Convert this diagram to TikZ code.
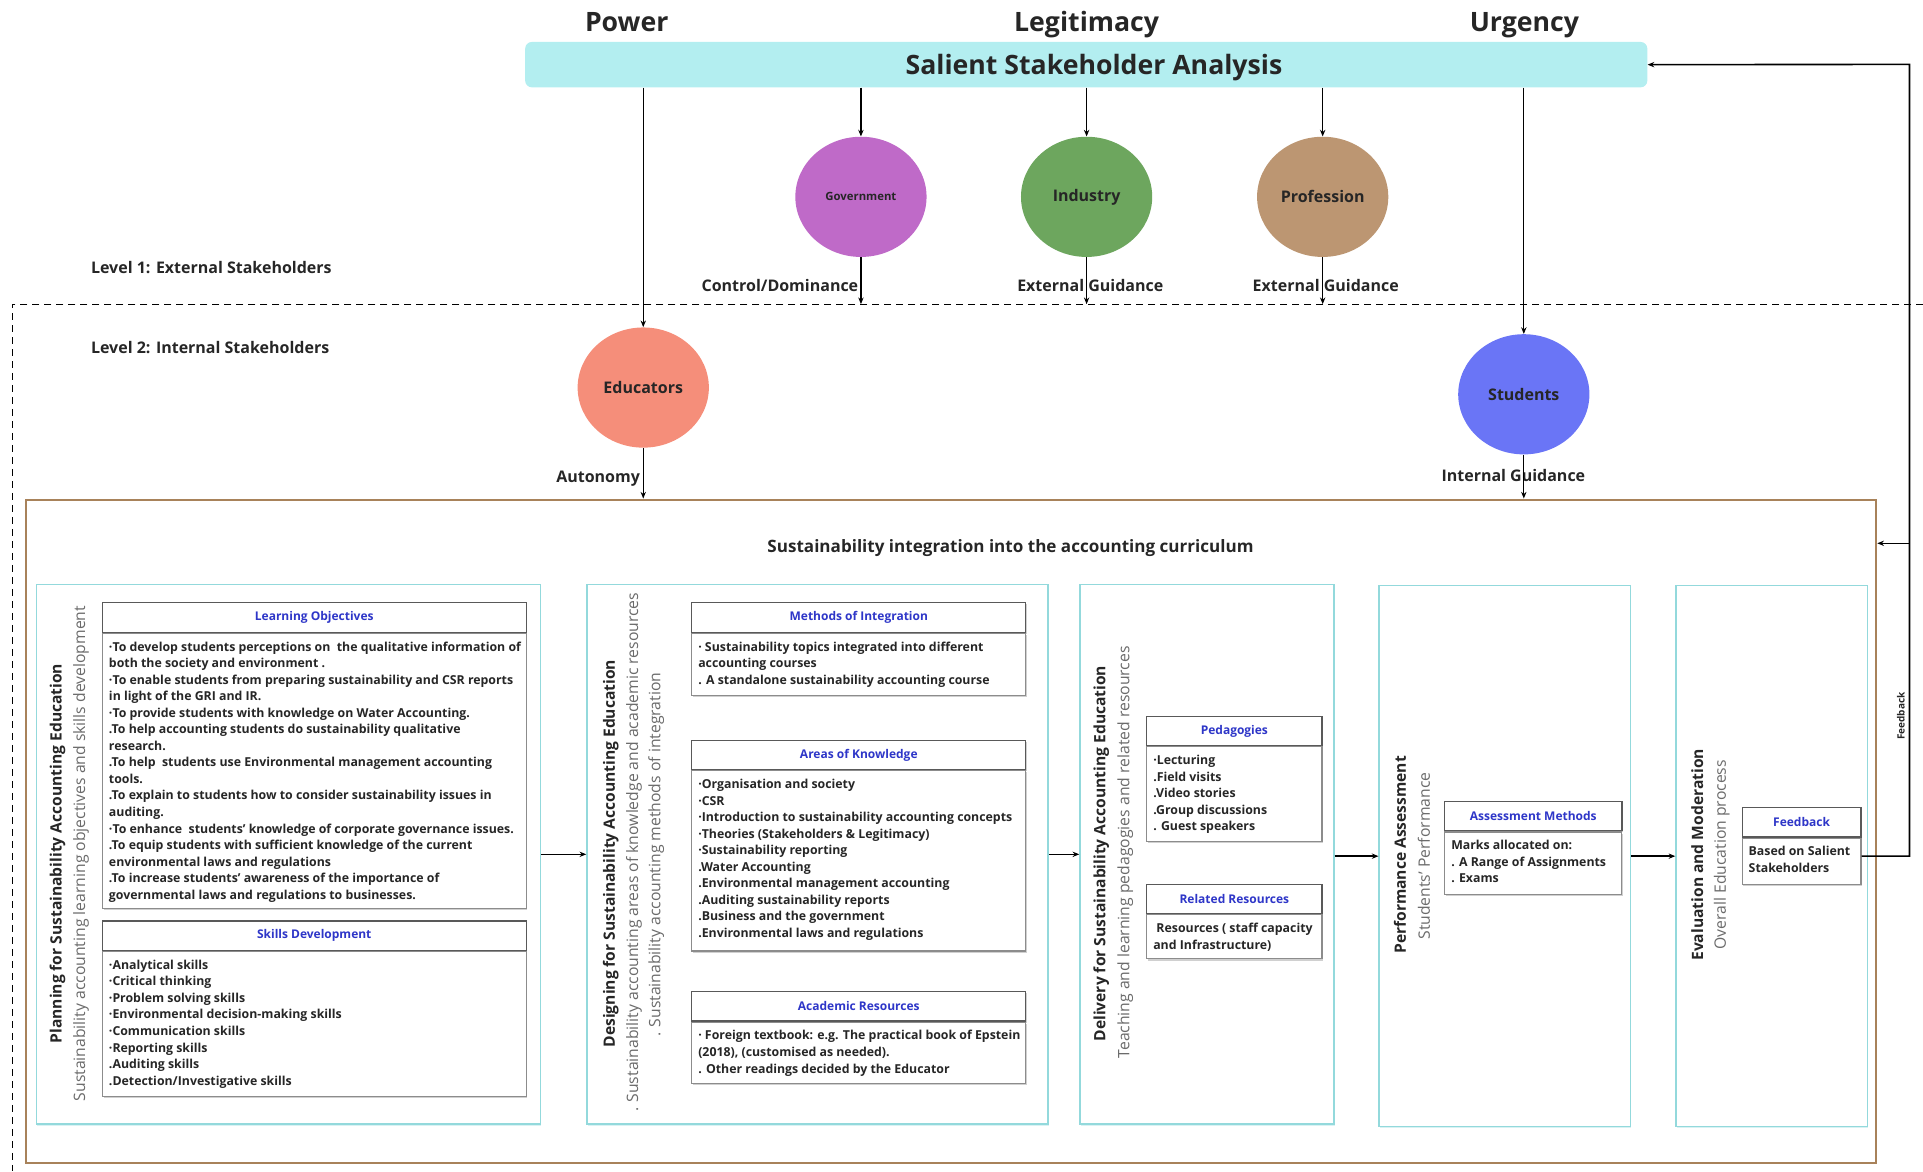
\documentclass[tikz,border=0pt]{standalone}
\usepackage{fontspec}
\setmainfont{Open Sans}
\usetikzlibrary{shapes.geometric,arrows.meta,shadows}
\definecolor{barcyan}{HTML}{B3EEF0}
\definecolor{govc}{HTML}{BF6AC8}
\definecolor{indc}{HTML}{6DA65E}
\definecolor{profc}{HTML}{BC9672}
\definecolor{educ}{HTML}{F58E7A}
\definecolor{stuc}{HTML}{6A75F6}
\definecolor{brownc}{HTML}{A8825A}
\definecolor{colc}{HTML}{93D9DC}
\definecolor{hdrblue}{HTML}{2E36C8}
\definecolor{txtc}{HTML}{262626}
\def\pxu{0.92pt}
\newcommand\fBig{\fontsize{20}{24}\selectfont\bfseries}
\newcommand\fLab{\fontsize{12}{14}\selectfont\bfseries}
\newcommand\fColT{\fontsize{11.7}{14}\selectfont\bfseries}
\newcommand\fColS{\fontsize{11.8}{14}\selectfont}
\newcommand\fBody{\fontsize{9.25}{12.4}\selectfont\bfseries}
\newcommand\fHdr{\fontsize{9}{11}\selectfont\bfseries}
\begin{document}
\begin{tikzpicture}[x=0.92pt,y=-0.92pt,
  sz/.style 2 args={minimum width=#1*\pxu, minimum height=#2*\pxu},
  arr/.style={-{Stealth[length=5pt,width=4pt]}, line width=0.9pt, black},
  ell/.style={ellipse, inner sep=0, sz={107}{98}, text=txtc},
  col/.style={draw=colc, line width=1.1pt, anchor=north west, inner sep=0, fill=white,
    drop shadow={shadow xshift=0.6pt, shadow yshift=-1.2pt, opacity=0.35, fill=colc}},
  hdr/.style={draw=black!65, line width=0.9pt, anchor=north west, inner sep=0, text=hdrblue, font=\fHdr, fill=white},
  bod/.style={draw=black!45, line width=0.8pt, anchor=north west, inner sep=0, fill=white},
  shd/.style={drop shadow={shadow xshift=1pt, shadow yshift=-1.2pt, opacity=0.3, fill=black!60}},
  btxt/.style={anchor=north west, align=left, inner xsep=5.2pt, inner ysep=6.5pt, font=\fBody, text=txtc},
  vt/.style={rotate=90, font=\fColT, text=txtc, inner sep=0},
  vs/.style={rotate=90, font=\fColS, text=black!58, inner sep=0},
  lab/.style={font=\fLab, text=txtc, inner sep=0}
]
\useasboundingbox (0,0) rectangle (1568,955);

% top headings
\node[font=\fBig, text=txtc, anchor=base] (pow) at (511,26) {Power};
\node[font=\fBig, text=txtc, anchor=base] (leg) at (886,26) {Legitimacy};
\node[font=\fBig, text=txtc, anchor=base] (urg) at (1243,26) {Urgency};
\node[fill=barcyan, rounded corners=5pt, anchor=north west, sz={915}{37}, inner sep=0] (bar) at (428,34) {};
\node[font=\fBig, text=txtc, anchor=base] (bartxt) at (892,61) {Salient Stakeholder Analysis};

% external stakeholders
\node[ell, fill=govc, font=\fontsize{8.5}{10}\selectfont\bfseries] (gov) at (702,160.5) {Government};
\node[ell, fill=indc, font=\fLab] (ind) at (886,160.5) {Industry};
\node[ell, fill=profc, font=\fLab] (prof) at (1078.5,160.5) {Profession};

\node[lab, anchor=west] (lv1) at (74,218) {Level 1: External Stakeholders};
\node[lab, anchor=west] (lv2) at (74,283) {Level 2: Internal Stakeholders};

\coordinate (dl) at (10,248);
\draw[dash pattern=on 5.5pt off 3.5pt, line width=0.9pt] (1568,248) -- (dl) -- (10,955);

\node[lab, anchor=east] (cd) at (700,233) {Control/Dominance};
\node[lab] (eg1) at (889,233) {External Guidance};
\node[lab] (eg2) at (1081,233) {External Guidance};

% internal stakeholders
\node[ell, fill=educ, font=\fLab] (edu) at (524.5,316) {Educators};
\node[ell, fill=stuc, font=\fLab] (stu) at (1242.5,321.5) {Students};

\node[lab, anchor=east] (aut) at (522,390) {Autonomy};
\node[lab] (ig) at (1234,388) {Internal Guidance};

% curriculum frame
\node[draw=brownc, line width=1.6pt, anchor=north west, inner sep=0, sz={1509}{541}] (brown) at (20,406.5) {};
\node[lab, font=\fontsize{12.8}{15}\selectfont\bfseries] (sic) at (824,447) {Sustainability integration into the accounting curriculum};

% columns
\node[col, sz={411}{440}] (c1) at (29,476) {};
\node[col, sz={376}{440}] (c2) at (478,476) {};
\node[col, sz={207}{440}] (c3) at (880,476) {};
\node[col, sz={205}{441}] (c4) at (1124,477) {};
\node[col, sz={156}{441}] (c5) at (1366,477) {};

% column titles
\node[vt] (c1t) at (47,696) {Planning for Sustainability Accounting Education};
\node[vs] (c1s) at (66,696) {Sustainability accounting learning objectives and skills development};
\node[vt] (c2t) at (498,696) {Designing for Sustainability Accounting Education};
\node[vs] (c2s) at (517,695) {. Sustainability accounting areas of knowledge and academic resources};
\node[vs] (c2u) at (535,697) {. Sustainability accounting methods of integration};
\node[vt] (c3t) at (898,696) {Delivery for Sustainability Accounting Education};
\node[vs] (c3s) at (917.5,695) {Teaching and learning pedagogies and related resources};
\node[vt] (c4t) at (1141.5,697) {Performance Assessment};
\node[vs] (c4s) at (1161,698) {Students' Performance};
\node[vt] (c5t) at (1384,697) {Evaluation and Moderation};
\node[vs] (c5s) at (1404,697) {Overall Education process};

% column 1 boxes
\node[hdr, shd, sz={345.5}{24}] (loH) at (83,491) {Learning Objectives};
\node[bod, shd, sz={345.5}{224}] (loB) at (loH.south west) {};
\node[btxt] (loT) at (loB.north west) {·To develop students perceptions on \ the qualitative information of\\
both the society and environment .\\
·To enable students from preparing sustainability and CSR reports\\
in light of the GRI and IR.\\
·To provide students with knowledge on Water Accounting.\\
.To help accounting students do sustainability qualitative\\
research.\\
.To help \ students use Environmental management accounting\\
tools.\\
.To explain to students how to consider sustainability issues in\\
auditing.\\
·To enhance \ students’ knowledge of corporate governance issues.\\
.To equip students with sufficient knowledge of the current\\
environmental laws and regulations\\
.To increase students' awareness of the importance of\\
governmental laws and regulations to businesses.};

\node[hdr, shd, sz={345.5}{24}] (skH) at (83,750.5) {Skills Development};
\node[bod, shd, sz={345.5}{118}] (skB) at (skH.south west) {};
\node[btxt] (skT) at (skB.north west) {·Analytical skills\\
·Critical thinking\\
·Problem solving skills\\
·Environmental decision-making skills\\
·Communication skills\\
·Reporting skills\\
.Auditing skills\\
.Detection/Investigative skills};

% column 2 boxes
\node[hdr, shd, sz={272.5}{24}] (miH) at (563.5,491) {Methods of Integration};
\node[bod, shd, sz={272.5}{51}] (miB) at (miH.south west) {};
\node[btxt] (miT) at (miB.north west) {· Sustainability topics integrated into different\\
accounting courses\\
. A standalone sustainability accounting course};

\node[hdr, shd, sz={272.5}{24}] (akH) at (563.5,603) {Areas of Knowledge};
\node[bod, shd, sz={272.5}{147}] (akB) at (akH.south west) {};
\node[btxt] (akT) at (akB.north west) {·Organisation and society\\
·CSR\\
·Introduction to sustainability accounting concepts\\
·Theories (Stakeholders \& Legitimacy)\\
·Sustainability reporting\\
.Water Accounting\\
.Environmental management accounting\\
.Auditing sustainability reports\\
.Business and the government\\
.Environmental laws and regulations};

\node[hdr, shd, sz={272.5}{24}] (arH) at (563.5,808) {Academic Resources};
\node[bod, shd, sz={272.5}{50}] (arB) at (arH.south west) {};
\node[btxt] (arT) at (arB.north west) {· Foreign textbook: e.g. The practical book of Epstein\\
(2018), (customised as needed).\\
. Other readings decided by the Educator};

% column 3 boxes
\node[hdr, shd, sz={143}{24}] (peH) at (934.5,583.5) {Pedagogies};
\node[bod, shd, sz={143}{77}] (peB) at (peH.south west) {};
\node[btxt] (peT) at (peB.north west) {·Lecturing\\
.Field visits\\
.Video stories\\
.Group discussions\\
. Guest speakers};

\node[hdr, shd, sz={143}{24}] (rrH) at (934.5,720.5) {Related Resources};
\node[bod, shd, sz={143}{36}] (rrB) at (rrH.south west) {};
\node[btxt] (rrT) at (rrB.north west) {\ Resources ( staff capacity\\
and Infrastructure)};

% column 4 box
\node[hdr, shd, sz={144.5}{24}] (amH) at (1177.5,653) {Assessment Methods};
\node[bod, shd, sz={144.5}{51}] (amB) at (amH.south west) {};
\node[btxt] (amT) at (amB.north west) {Marks allocated on:\\
. A Range of Assignments\\
. Exams};

% column 5 box
\node[hdr, shd, sz={97}{24}] (fbH) at (1420,658) {Feedback};
\node[bod, shd, sz={97}{38}] (fbB) at (fbH.south west) {};
\node[btxt] (fbT) at (fbB.north west) {Based on Salient\\
Stakeholders};

% connectors top
\draw[arr] (bar.south -| edu.north) -- (edu.north);
\draw[arr] (bar.south -| gov.north) -- (gov.north);
\draw[arr] (bar.south -| ind.north) -- (ind.north);
\draw[arr] (bar.south -| prof.north) -- (prof.north);
\draw[arr] (bar.south -| stu.north) -- (stu.north);
\draw[arr] (gov.south) -- (gov.south |- dl);
\draw[arr] (ind.south) -- (ind.south |- dl);
\draw[arr] (prof.south) -- (prof.south |- dl);
\draw[arr] (edu.south) -- (edu.south |- brown.north);
\draw[arr] (stu.south) -- (stu.south |- brown.north);

% connectors between columns
\draw[arr, line width=1.1pt] (c1.east) -- (c1.east -| c2.west);
\draw[arr, line width=1.1pt] (c2.east) -- (c2.east -| c3.west);
\draw[arr, line width=1.1pt] (c3.east |- c4.west) -- (c4.west);
\draw[arr, line width=1.1pt] (c4.east) -- (c4.east -| c5.west);

% feedback loop
\coordinate (fbx) at (1557,52.5);
\coordinate (fbj) at (1557,443);
\draw[arr, line width=1.2pt] (fbB.east |- c5.east) -- (fbx |- c5.east) -- (fbx) -- (bar.east);
\draw[arr, line width=1.2pt] (fbj) -- (fbj -| brown.east);
\node[rotate=90, font=\fontsize{7.5}{9}\selectfont\bfseries, text=txtc, inner sep=0] (fbl) at (1550,584) {Feedback};
\end{tikzpicture}
\end{document}
